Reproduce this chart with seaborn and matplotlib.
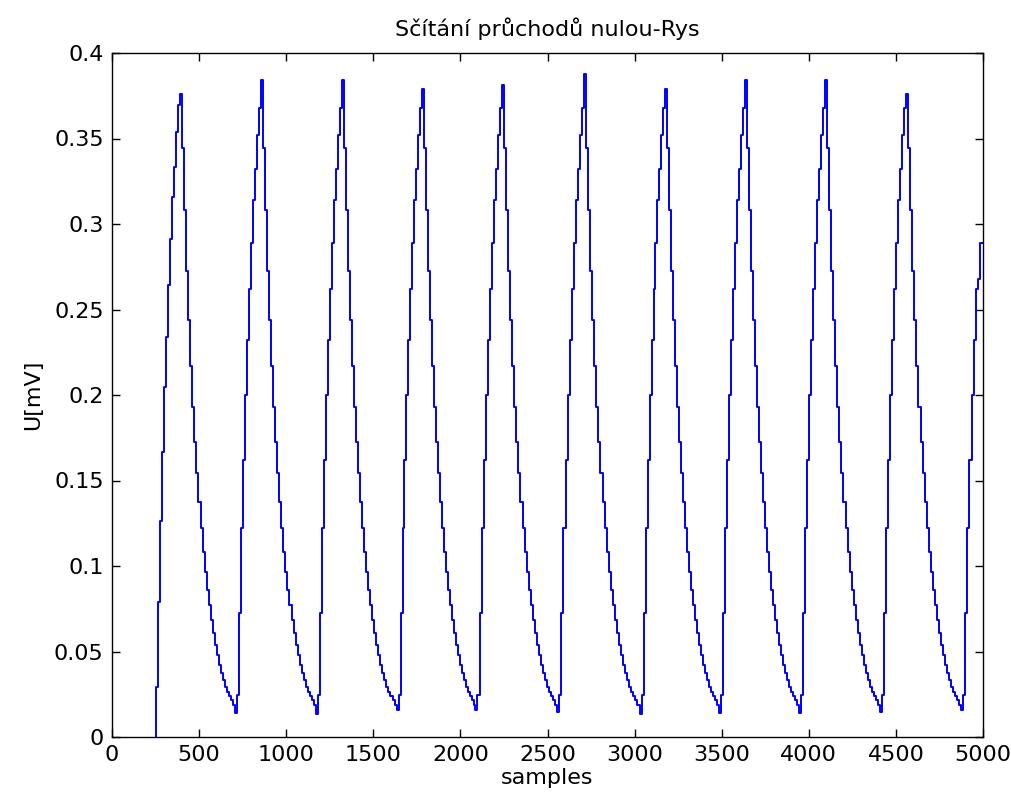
import numpy as np
import pandas as pd
import matplotlib
matplotlib.use("Agg")
import matplotlib.pyplot as plt
import seaborn as sns

# ---- data (samples / mV) ----
title = "Sčítání průchodů nulou-Rys"
x_label = "samples"
y_label = "U[mV]"

# sample index where each rising edge starts (last one is cut at 5000)
rise_start = [254, 716, 1182, 1645, 2098, 2568, 3040, 3497, 3955, 4420, 4886]
# staircase levels of the first rising edge (starting from 0)
rise_first = [0.0294, 0.0789, 0.1265, 0.1668, 0.2048, 0.2341, 0.2643, 0.2911,
              0.3160, 0.3332, 0.3536, 0.3696]
# staircase levels of later rising edges (starting from the minimum)
rise_next = [0.0246, 0.0725, 0.1220, 0.1620, 0.2000, 0.2320, 0.2620, 0.2890,
             0.3140, 0.3320, 0.3520, 0.3680]
# staircase levels of the decaying part after the peak
fall_levels = [0.3443, 0.3082, 0.2727, 0.2439, 0.2170, 0.1932, 0.1727, 0.1542,
               0.1376, 0.1220, 0.1084, 0.0967, 0.0860, 0.0772, 0.0684, 0.0606,
               0.0538, 0.0480, 0.0421, 0.0373, 0.0333, 0.0294, 0.0265, 0.0240,
               0.0216, 0.0187, 0.0168]
peak_values = [0.376, 0.384, 0.384, 0.379, 0.381, 0.388, 0.379, 0.384, 0.384, 0.376]
min_values = [0.0139, 0.0135, 0.0160, 0.0155, 0.0145, 0.0135, 0.0140, 0.0140, 0.0145, 0.0160]
# last (truncated) rising edge, with the sample of each step
last_rise_x = [4886, 4898, 4910, 4922, 4934, 4946, 4958, 4970, 4982, 4994, 5000]
last_rise = [0.0246, 0.0725, 0.1220, 0.1620, 0.2000, 0.2320, 0.2620, 0.2680,
             0.2890, 0.2890, 0.2890]

x_ticks = [0, 500, 1000, 1500, 2000, 2500, 3000, 3500, 4000, 4500, 5000]
y_ticks = [0, 0.05, 0.1, 0.15, 0.2, 0.25, 0.3, 0.35, 0.4]
y_tick_labels = ["0", "0.05", "0.1", "0.15", "0.2", "0.25", "0.3", "0.35", "0.4"]

# ---- assemble the staircase ----
xs, ys = [rise_start[0]], [0.0]
for k in range(len(peak_values)):
    rise = rise_first if k == 0 else rise_next
    levels = rise + [peak_values[k]] + fall_levels[:-1] + [min_values[k]]
    start, end = rise_start[k], rise_start[k + 1]
    step = (end - start) / len(levels)
    for i, v in enumerate(levels):
        xs.append(start + i * step)
        ys.append(v)
xs.extend(last_rise_x)
ys.extend(last_rise)

df = pd.DataFrame({"samples": xs, "U": ys})

sns.set_theme(style="ticks")
plt.rcParams["font.family"] = ["DejaVu Sans"]
plt.rcParams["text.color"] = "black"
plt.rcParams["axes.labelcolor"] = "black"
plt.rcParams["xtick.direction"] = "in"
plt.rcParams["ytick.direction"] = "in"

fig = plt.figure(figsize=(10.12, 8.07), dpi=100)
ax = fig.add_axes([112 / 1012, 1 - 737 / 807, (983 - 112) / 1012, (737 - 53) / 807])

sns.lineplot(data=df, x="samples", y="U", ax=ax, estimator=None, sort=False,
             drawstyle="steps-post", color="#0000ff", linewidth=1.4)

ax.set_xlim(0, 5000)
ax.set_ylim(0, 0.4)
ax.set_xticks(x_ticks)
ax.set_xticklabels([str(t) for t in x_ticks])
ax.set_yticks(y_ticks)
ax.set_yticklabels(y_tick_labels)
ax.tick_params(axis="both", which="both", direction="in", length=6, width=1,
               top=True, right=True, labelsize=16, colors="black", pad=6)
for s in ax.spines.values():
    s.set_visible(True)
    s.set_color("black")
    s.set_linewidth(1.0)

ax.set_title(title, fontsize=16, pad=12, color="black")
ax.set_xlabel(x_label, fontsize=16, labelpad=2, color="black")
ax.set_ylabel(y_label, fontsize=16, labelpad=8, color="black")
ax.grid(False)

fig.savefig("out.png", dpi=100, facecolor="white")
